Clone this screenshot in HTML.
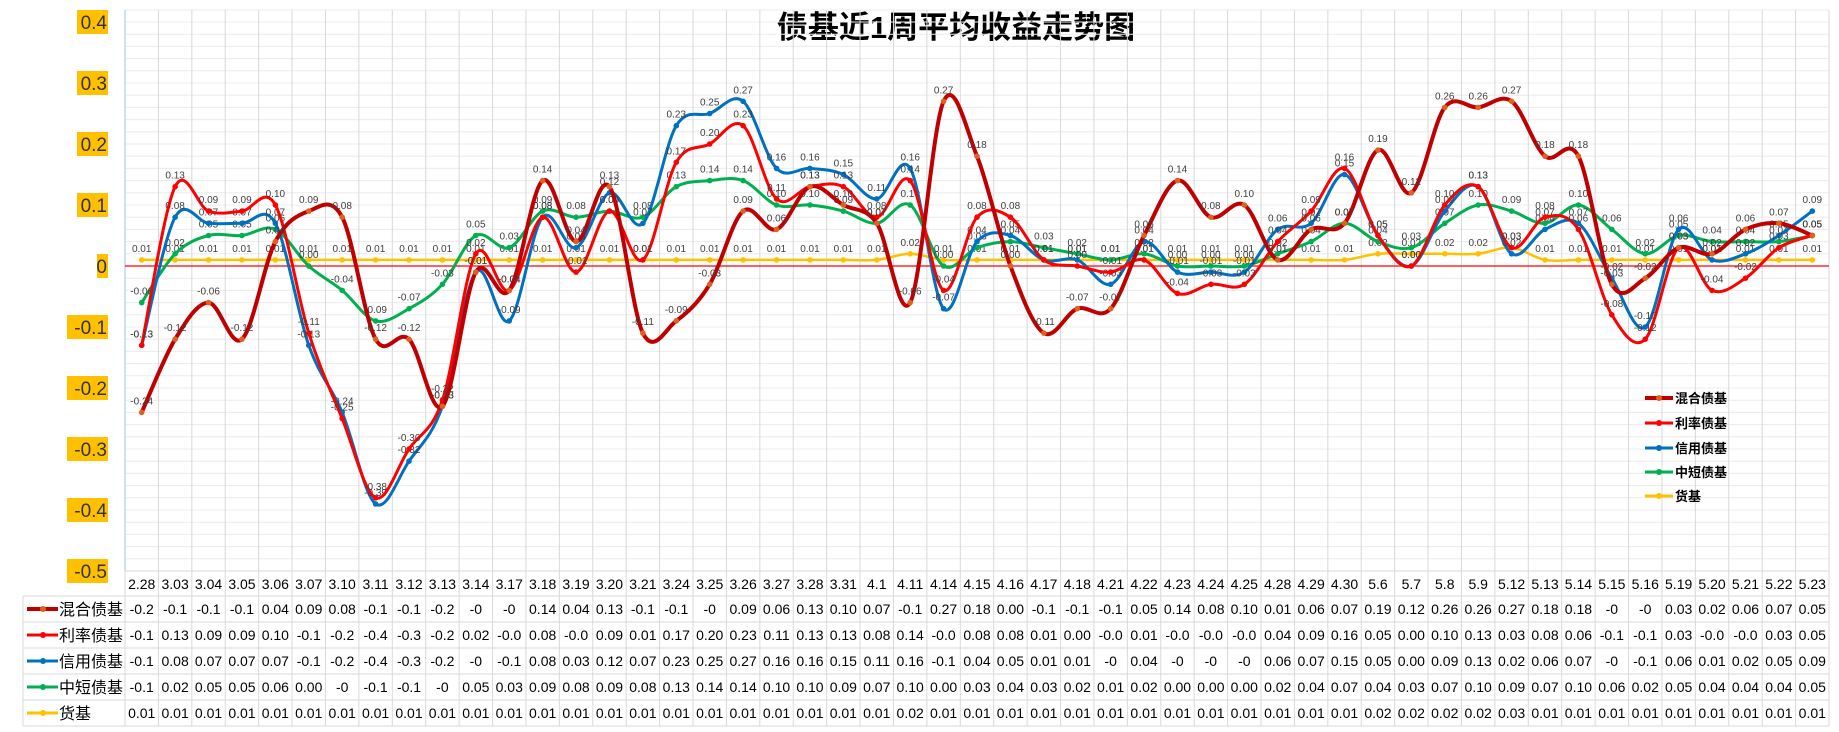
<!DOCTYPE html>
<html><head><meta charset="utf-8"><style>
html,body{margin:0;padding:0;background:#fff;}
svg{display:block;font-family:"Liberation Sans","Noto Sans CJK SC",sans-serif;}
</style></head><body>
<svg id="c" width="1839" height="732" viewBox="0 0 1839 732"></svg>
<script>
const categories=["2.28","3.03","3.04","3.05","3.06","3.07","3.10","3.11","3.12","3.13","3.14","3.17","3.18","3.19","3.20","3.21","3.24","3.25","3.26","3.27","3.28","3.31","4.1","4.11","4.14","4.15","4.16","4.17","4.18","4.21","4.22","4.23","4.24","4.25","4.28","4.29","4.30","5.6","5.7","5.8","5.9","5.12","5.13","5.14","5.15","5.16","5.19","5.20","5.21","5.22","5.23"];
const hybrid=[-0.24,-0.12,-0.06,-0.12,0.04,0.09,0.08,-0.12,-0.12,-0.23,-0.01,-0.04,0.14,0.04,0.13,-0.11,-0.09,-0.03,0.09,0.06,0.13,0.10,0.07,-0.06,0.27,0.18,0.00,-0.11,-0.07,-0.07,0.05,0.14,0.08,0.10,0.01,0.06,0.07,0.19,0.12,0.26,0.26,0.27,0.18,0.18,-0.03,-0.02,0.03,0.02,0.06,0.07,0.05];
const rate=[-0.13,0.13,0.09,0.09,0.10,-0.11,-0.25,-0.38,-0.30,-0.22,0.02,-0.04,0.08,-0.01,0.09,0.01,0.17,0.20,0.23,0.11,0.13,0.13,0.08,0.14,-0.04,0.08,0.08,0.01,0.00,-0.01,0.01,-0.045,-0.03,-0.03,0.04,0.09,0.16,0.05,0.00,0.10,0.13,0.03,0.08,0.06,-0.08,-0.12,0.03,-0.04,-0.02,0.03,0.05];
const credit=[-0.13,0.08,0.07,0.07,0.07,-0.13,-0.24,-0.39,-0.32,-0.23,-0.01,-0.09,0.08,0.03,0.12,0.07,0.23,0.25,0.27,0.16,0.16,0.15,0.11,0.16,-0.07,0.04,0.05,0.01,0.01,-0.03,0.04,-0.01,-0.01,-0.01,0.06,0.07,0.15,0.05,0.00,0.09,0.13,0.02,0.06,0.07,-0.02,-0.10,0.06,0.01,0.02,0.05,0.09];
const shortb=[-0.06,0.02,0.05,0.05,0.06,0.00,-0.04,-0.09,-0.07,-0.03,0.05,0.03,0.09,0.08,0.09,0.08,0.13,0.14,0.14,0.10,0.10,0.09,0.07,0.10,0.00,0.03,0.04,0.03,0.02,0.01,0.02,0.00,0.00,0.00,0.02,0.04,0.07,0.04,0.03,0.07,0.10,0.09,0.07,0.10,0.06,0.02,0.05,0.04,0.04,0.04,0.05];
const money=[0.01,0.01,0.01,0.01,0.01,0.01,0.01,0.01,0.01,0.01,0.01,0.01,0.01,0.01,0.01,0.01,0.01,0.01,0.01,0.01,0.01,0.01,0.01,0.02,0.01,0.01,0.01,0.01,0.01,0.01,0.01,0.01,0.01,0.01,0.01,0.01,0.01,0.02,0.02,0.02,0.02,0.03,0.01,0.01,0.01,0.01,0.01,0.01,0.01,0.01,0.01];
const yTicks=[0.4,0.3,0.2,0.1,0,-0.1,-0.2,-0.3,-0.4,-0.5];
const seriesNames=["混合债基","利率债基","信用债基","中短债基","货基"];

const NS="http://www.w3.org/2000/svg";
const svg=document.getElementById('c');
const L=125,R=1829,TOP=22,BOT=571;
const colW=(R-L)/categories.length;
const x=i=>L+colW*(i+0.5);
const y=v=>TOP+(0.4-v)/0.9*(BOT-TOP);
function el(t,a,p){const e=document.createElementNS(NS,t);for(const k in a)e.setAttribute(k,a[k]);(p||svg).appendChild(e);return e;}
function fmtT(v){if(Math.abs(v)<0.005)return "0";return String(Math.round(v*10)/10);}

const t=el('text',{x:956,y:38,'text-anchor':'middle','font-size':31,'font-weight':'bold',fill:'#000'});
t.textContent="债基近1周平均收益走势图";


const grid=el('g',{});

for(let v=0.4;v>=-0.5001;v-=0.02){el('line',{x1:L,x2:R,y1:y(v),y2:y(v),stroke:'#ececec','stroke-width':1},grid);}
el('line',{x1:L,x2:R,y1:10,y2:10,stroke:'#ececec'},grid);
for(let i=0;i<=categories.length;i++){el('line',{x1:L+colW*i,x2:L+colW*i,y1:10,y2:726,stroke:'#d9d9d9','stroke-width':1},grid);}
el('line',{x1:L,x2:L,y1:10,y2:571,stroke:'#bdd7ee','stroke-width':1.5},grid);

yTicks.forEach(v=>{
  const g=el('g',{});
  
  const s=fmtT(v);const w=s.length*10+1;
  el('rect',{x:108-w,y:y(v)-12,width:w,height:24,fill:'#FFC000'},g);
  const tx=el('text',{x:107,y:y(v)+7,'text-anchor':'end','font-size':19,fill:'#333'},g);tx.textContent=s;
});
const zl=el('line',{x1:L,x2:R,y1:y(0),y2:y(0),stroke:'#ff0000','stroke-width':1.2});


function path(vals){
  const p=vals.map((v,i)=>[x(i),y(v)]);let d=`M${p[0][0]},${p[0][1]}`;
  for(let i=0;i<p.length-1;i++){const p0=p[i-1]||p[i],p1=p[i],p2=p[i+1],p3=p[i+2]||p2;const k=6;
    d+=` C${p1[0]+(p2[0]-p0[0])/k},${p1[1]+(p2[1]-p0[1])/k} ${p2[0]-(p3[0]-p1[0])/k},${p2[1]-(p3[1]-p1[1])/k} ${p2[0]},${p2[1]}`;}
  return d;}
const series=[
 {d:money,c:'#FFC000',w:2.5,m:'#FFC000',n:'money-fund-line'},
 {d:shortb,c:'#00B050',w:3,m:'#00B050',n:'short-bond-line'},
 {d:credit,c:'#0070C0',w:3,m:'#0070C0',n:'credit-bond-line'},
 {d:rate,c:'#FF0000',w:3,m:'#FF0000',n:'rate-bond-line'},
 {d:hybrid,c:'#C00000',w:4,m:'#E06020',n:'hybrid-bond-line'}];
series.forEach(s=>{
  const g=el('g',{});
  
  el('path',{d:path(s.d),fill:'none',stroke:s.c,'stroke-width':s.w},g);
  s.d.forEach((v,i)=>{const c=el('circle',{cx:x(i),cy:y(v),r:2.8,fill:s.m},g);
    
    const lb=el('text',{x:x(i),y:y(v)-8,'text-anchor':'middle','font-size':10,fill:'#404040'},g);lb.textContent=v.toFixed(2);});
});

const lg=el('g',{});

const lc=[['#C00000','#E06020',4],['#FF0000','#FF0000',3],['#0070C0','#0070C0',3],['#00B050','#00B050',3],['#FFC000','#FFC000',3]];
const ly=[398,423,448,472,496];
seriesNames.forEach((n,i)=>{const g=el('g',{},lg);
  
  el('line',{x1:1645,x2:1673,y1:ly[i],y2:ly[i],stroke:lc[i][0],'stroke-width':lc[i][2]},g);
  el('circle',{cx:1659,cy:ly[i],r:3,fill:lc[i][1]},g);
  const tx=el('text',{x:1675,y:ly[i]+5,'font-size':13,'font-weight':'bold',fill:'#000'},g);tx.textContent=n;});

const tb=el('g',{});

const rowY=[571,596,622,648,674,700,726];
rowY.forEach((ry,i)=>{el('line',{x1:i===0?L:23,x2:R,y1:ry,y2:ry,stroke:'#d9d9d9'},tb);});
el('line',{x1:23,x2:23,y1:596,y2:726,stroke:'#d9d9d9'},tb);
categories.forEach((c,i)=>{const tx=el('text',{x:x(i),y:589,'text-anchor':'middle','font-size':14,fill:'#000'},tb);tx.textContent=c;
  });
const rows=[hybrid,rate,credit,shortb,money];
rows.forEach((r,ri)=>{const cy=(rowY[ri+1]+rowY[ri+2])/2;
  const g=el('g',{},tb);
  el('line',{x1:27,x2:58,y1:cy,y2:cy,stroke:lc[ri][0],'stroke-width':lc[ri][2]},g);
  el('circle',{cx:43,cy:cy,r:3,fill:lc[ri][1]},g);
  const h=el('text',{x:59,y:cy+6,'font-size':16,fill:'#000'},g);h.textContent=seriesNames[ri];
  r.forEach((v,i)=>{let s;
    if(ri===4||v>=0)s=v.toFixed(2);
    else{const q=Math.round(v*10)/10;if(q===0)s=(ri===1)?"-0.0":"-0";else s=q.toFixed(1);}
    const tx=el('text',{x:x(i),y:cy+5,'text-anchor':'middle','font-size':14,fill:'#000'},tb);tx.textContent=s;});
});
</script>
</body></html>
